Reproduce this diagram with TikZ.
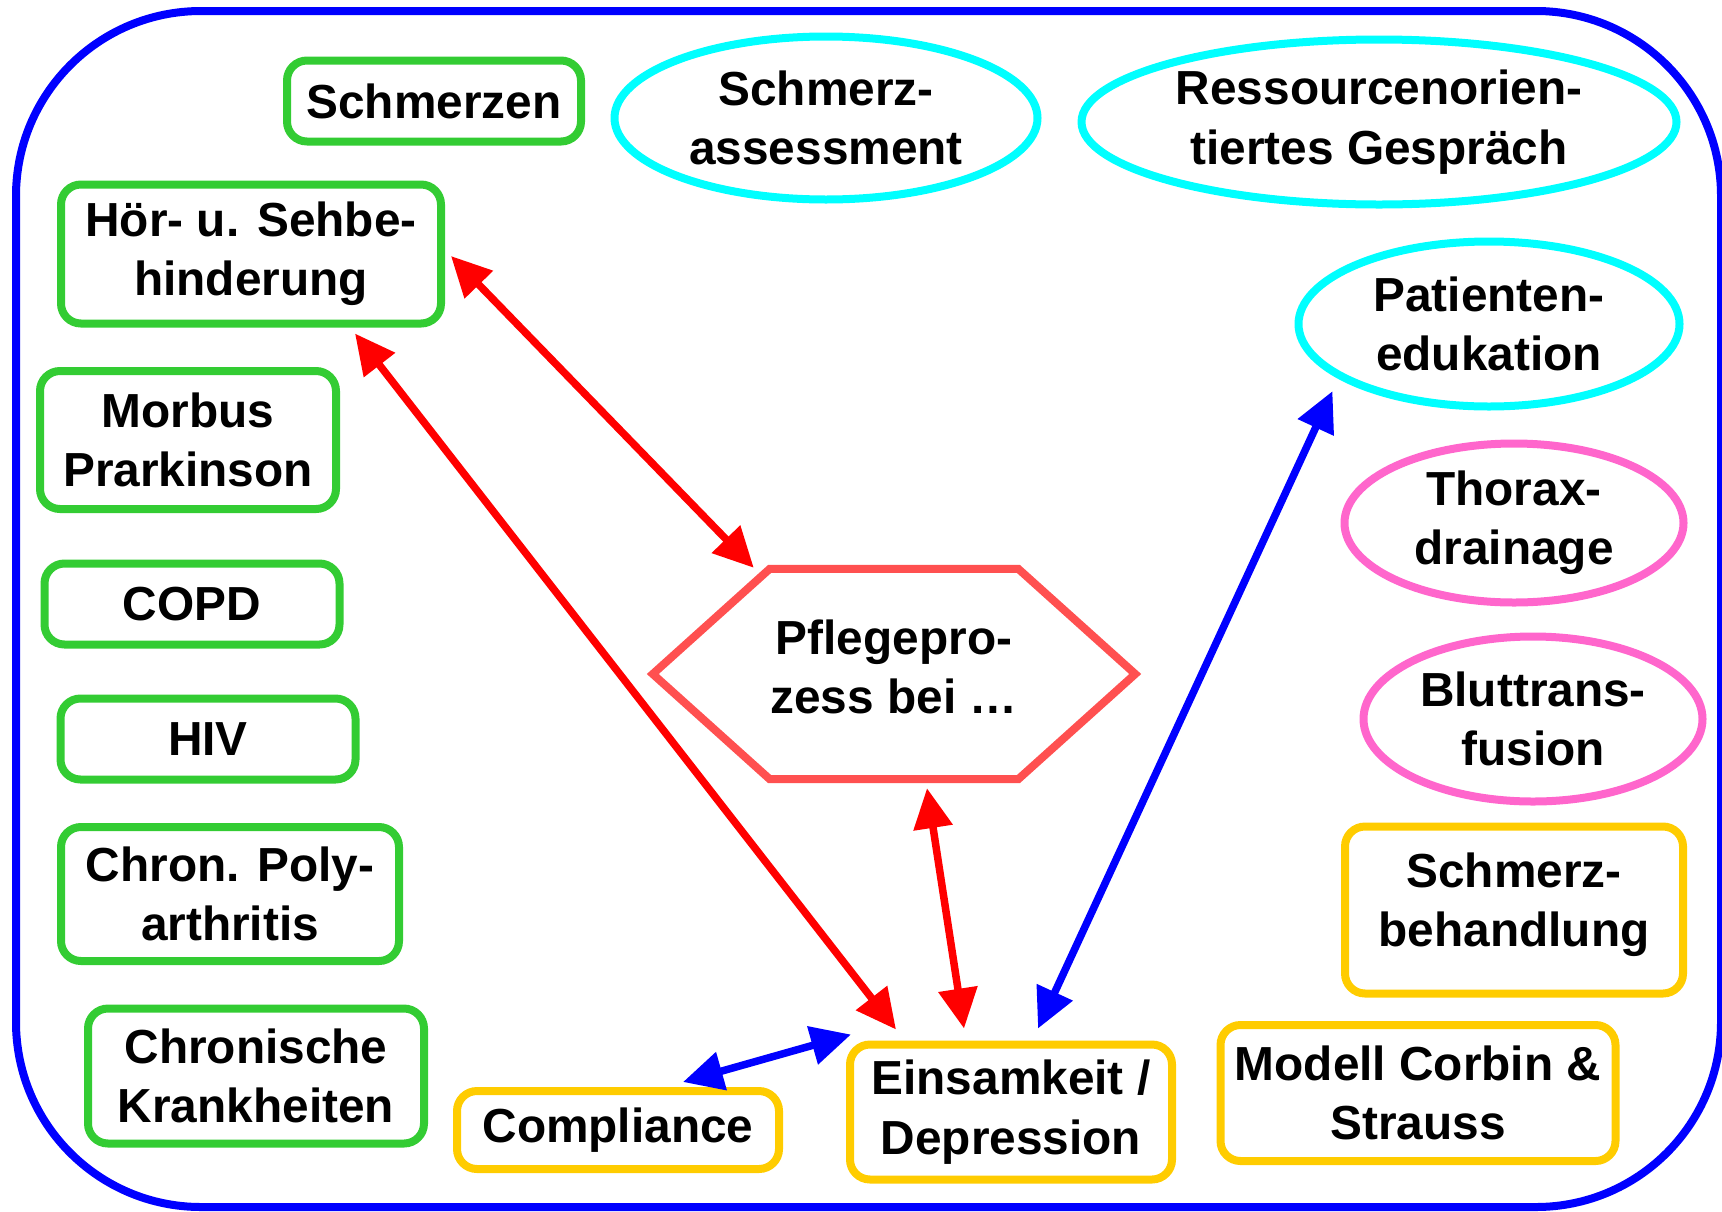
\documentclass[tikz,border=0pt]{standalone}
\usepackage{fontspec}
\setmainfont{Liberation Sans}
\usetikzlibrary{arrows.meta,calc,shapes.geometric}

\definecolor{boxgreen}{RGB}{51,204,51}
\definecolor{boxyellow}{RGB}{255,204,0}
\definecolor{ovalcyan}{RGB}{0,255,255}
\definecolor{ovalpink}{RGB}{255,102,204}
\definecolor{hexred}{RGB}{255,80,80}

\begin{document}
\begin{tikzpicture}[x=0.1mm,y=-0.1mm,font=\bfseries\fontsize{13.6}{16.9}\selectfont]
        \useasboundingbox (0,0) rectangle (1722,1211);
        \draw [blue,line width=0.8mm,rounded corners=18.5mm] (16,11) rectangle (1721,1207);

        \begin{scope}[every node/.style={rectangle,rounded corners=2mm,line width=0.8mm,draw=boxgreen,align=center,inner sep=0pt}]
            \node (schmerzen) at (434,101) [minimum width=29.4mm,minimum height=8.1mm] {Schmerzen};
            \node (hoer) at (251,254) [minimum width=38mm,minimum height=13.9mm] {Hör- u. Sehbe-\\hinderung};
            \node (morbus) at (188,440) [minimum width=29.6mm,minimum height=13.8mm] {Morbus\\Prarkinson};
            \node (copd) at (192,604) [minimum width=29.5mm,minimum height=8.1mm] {COPD};
            \node (hiv) at (208,739) [minimum width=29.5mm,minimum height=8.1mm] {HIV};
            \node (polyarth) at (230,894) [minimum width=33.8mm,minimum height=13.4mm] {Chron. Poly-\\arthritis};
            \node (chronisch) at (256,1076) [minimum width=33.6mm,minimum height=13.5mm] {Chronische\\Krankheiten};
        \end{scope}

        \begin{scope}[every node/.style={rectangle,rounded corners=2mm,line width=0.8mm,draw=boxyellow,align=center,inner sep=0pt}]
            \node (compliance) at (618,1130) [minimum width=32.2mm,minimum height=7.8mm] {Compliance};
            \node (einsam) at (1011,1112) [minimum width=32.2mm,minimum height=13.5mm] {Einsamkeit /\\Depression};
            \node (modell) at (1418,1093) [minimum width=39.5mm,minimum height=13.6mm] {Modell Corbin \&\\Strauss};
            \node (behandlung) at (1514,910) [minimum width=33.8mm,minimum height=16.7mm] {Schmerz-\\behandlung\\[-11pt]\mbox{}};
        \end{scope}

        \begin{scope}[every node/.style={ellipse,line width=0.8mm,draw=ovalcyan,align=center,inner sep=0pt}]
            \node (assessment) at (826,118) [minimum width=42.3mm,minimum height=16.3mm] {Schmerz-\\assessment};
            \node (gespraech) at (1379,122) [minimum width=59.5mm,minimum height=16.5mm] {Ressourcenorien-\\tiertes Gespräch};
            \node (patient) at (1489,324) [minimum width=38.1mm,minimum height=16.5mm] {Patienten-\\edukation};
        \end{scope}

        \begin{scope}[every node/.style={ellipse,line width=0.8mm,draw=ovalpink,align=center,inner sep=0pt}]
            \node (thorax) at (1514,523) [minimum width=33.9mm,minimum height=15.9mm] {Thorax-\\drainage};
            \node (blut) at (1533,719) [minimum width=33.9mm,minimum height=16.5mm] {Bluttrans-\\fusion};
        \end{scope}

        \node (pflege) at (894,667) [minimum width=23.3mm,minimum height=19.3mm,align=center,inner sep=0pt] {Pflegepro-\\zess bei …};
        \draw [hexred,line width=0.8mm] ($(pflege.north west)+(0,-1)$) -- ($(pflege.north east)+(0,-1)$) -- ($(pflege.east)+(117,7)$)
            -- ($(pflege.south east)+(0,15)$) -- ($(pflege.south west)+(0,15)$) -- ($(pflege.west)+(-117,7)$) -- cycle;

        \begin{scope}[>={Triangle[length=4mm,width=3.8mm]},
                    every edge/.style={draw,line width=0.75mm}]
            \path [<->,red] ($(hoer.east)+(6,2)$) edge ($(pflege.north west)+(-16,-2)$);
            \path [<->,red] ($(hoer.south)+(104,6)$) edge ($(einsam.north west)+(50,-11)$);
            \path [<->,red] ($(pflege.south)+(33,24)$) edge ($(einsam.north)+(-47,-12)$);

            \path [<->,blue] ($(patient.south west)+(-19,6)$) edge ($(einsam.north)+(27,-12)$);
            \path [<->,blue] ($(compliance.north)+(65,-5)$) edge ($(einsam.north west)+(5,-6)$);
        \end{scope}
    \end{tikzpicture}
\end{document}
